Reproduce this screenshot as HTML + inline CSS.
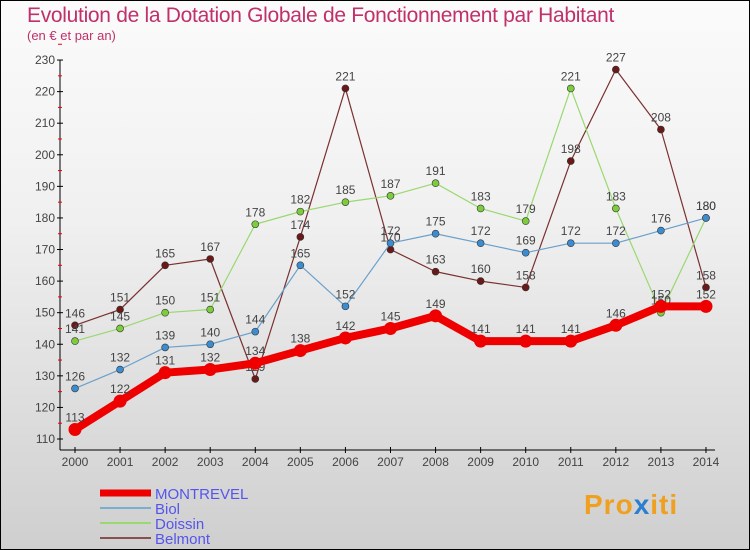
<!DOCTYPE html>
<html><head><meta charset="utf-8">
<style>
html,body{margin:0;padding:0}
body{width:750px;height:550px;overflow:hidden;font-family:"Liberation Sans",sans-serif}
#wrap{position:relative;width:748px;height:548px;border:1px solid #000;background:linear-gradient(#fbfbfb,#f0f0f0 40%,#cfcfcf)}
.t{position:absolute;color:#c0306a}
</style></head><body>
<div id="wrap">
<div class="t" style="left:26px;top:3px;font-size:21px;letter-spacing:-0.3px">Evolution de la Dotation Globale de Fonctionnement par Habitant</div>
<div class="t" style="left:26px;top:27px;font-size:13px">(en € et par an)</div>
<svg id="c" width="750" height="550" style="position:absolute;left:-1px;top:-1px"></svg>
<div style="position:absolute;left:583px;top:488px;font-size:28px;font-weight:bold;letter-spacing:1px"><span style="color:#f0a020">Pro</span><span style="color:#2a7fd0">x</span><span style="color:#f0a020">iti</span></div>
</div>
<script>
const years=[2000,2001,2002,2003,2004,2005,2006,2007,2008,2009,2010,2011,2012,2013,2014];
const montrevel=[113,122,131,132,134,138,142,145,149,141,141,141,146,152,152];
const biol=[126,132,139,140,144,165,152,172,175,172,169,172,172,176,180];
const doissin=[141,145,150,151,178,182,185,187,191,183,179,221,183,150,180];
const belmont=[146,151,165,167,129,174,221,170,163,160,158,198,227,208,158];
const yTicks=[110,120,130,140,150,160,170,180,190,200,210,220,230];
const NS="http://www.w3.org/2000/svg";
const svg=document.getElementById('c');
const X=i=>75+i*45.07;
const Y=v=>439-(v-110)*3.158;
function mk(t,a){const e=document.createElementNS(NS,t);for(const k in a)e.setAttribute(k,a[k]);svg.appendChild(e);return e;}
let e;
e=mk('line',{x1:60,y1:Y(230),x2:60,y2:450,stroke:'#000'});


e=mk('line',{x1:60,y1:450,x2:715,y2:450,stroke:'#000'});


yTicks.forEach(v=>{
 mk('line',{x1:57,y1:Y(v),x2:63,y2:Y(v),stroke:'#000'});
 mk('line',{x1:58,y1:Y(v+5),x2:62,y2:Y(v+5),stroke:'#e00'});
 e=mk('text',{x:55,y:Y(v)+4,'text-anchor':'end','font-size':12,fill:'#444'});
 e.textContent=v;
 
 
});
years.forEach((yr,i)=>{
 mk('line',{x1:X(i),y1:447,x2:X(i),y2:453,stroke:'#000'});
 e=mk('text',{x:X(i),y:466,'text-anchor':'middle','font-size':12,fill:'#444'});
 e.textContent=yr;
 
 
});
function series(d,col,dot,w,r,name){
 const pts=d.map((v,i)=>X(i)+','+Y(v)).join(' ');
 e=mk('polyline',{points:pts,fill:'none',stroke:col,'stroke-width':w,'stroke-linejoin':'round'});
 
 
 d.forEach((v,i)=>{
  e=mk('circle',{cx:X(i),cy:Y(v),r:r,fill:dot,stroke:'#333','stroke-width':r>5?0:0.6});
  
  
  e=mk('text',{x:X(i),y:Y(v)-8,'text-anchor':'middle','font-size':12,fill:'#444'});
  e.textContent=v;
  
  
 });
}
series(belmont,'#7a3030','#6b1818',1.2,3.5,'belmont');
series(doissin,'#9ad870','#7ccc3c',1.2,3.5,'doissin');
series(biol,'#6aa0cc','#3c8cd0',1.2,3.5,'biol');
series(montrevel,'#ee0000','#ee0000',8,6.5,'montrevel');
const legend=[['MONTREVEL','#ee0000',7],['Biol','#7aaed0',2],['Doissin','#9ad870',2],['Belmont','#8a5050',2]];
legend.forEach((l,i)=>{
 const y=493+i*15;
 e=mk('line',{x1:100,y1:y,x2:151,y2:y,stroke:l[1],'stroke-width':l[2]});
 
 
 e=mk('text',{x:155,y:y+6,'font-size':15,fill:'#5555ee'});
 e.textContent=l[0];
 
 
});
</script>
</body></html>
